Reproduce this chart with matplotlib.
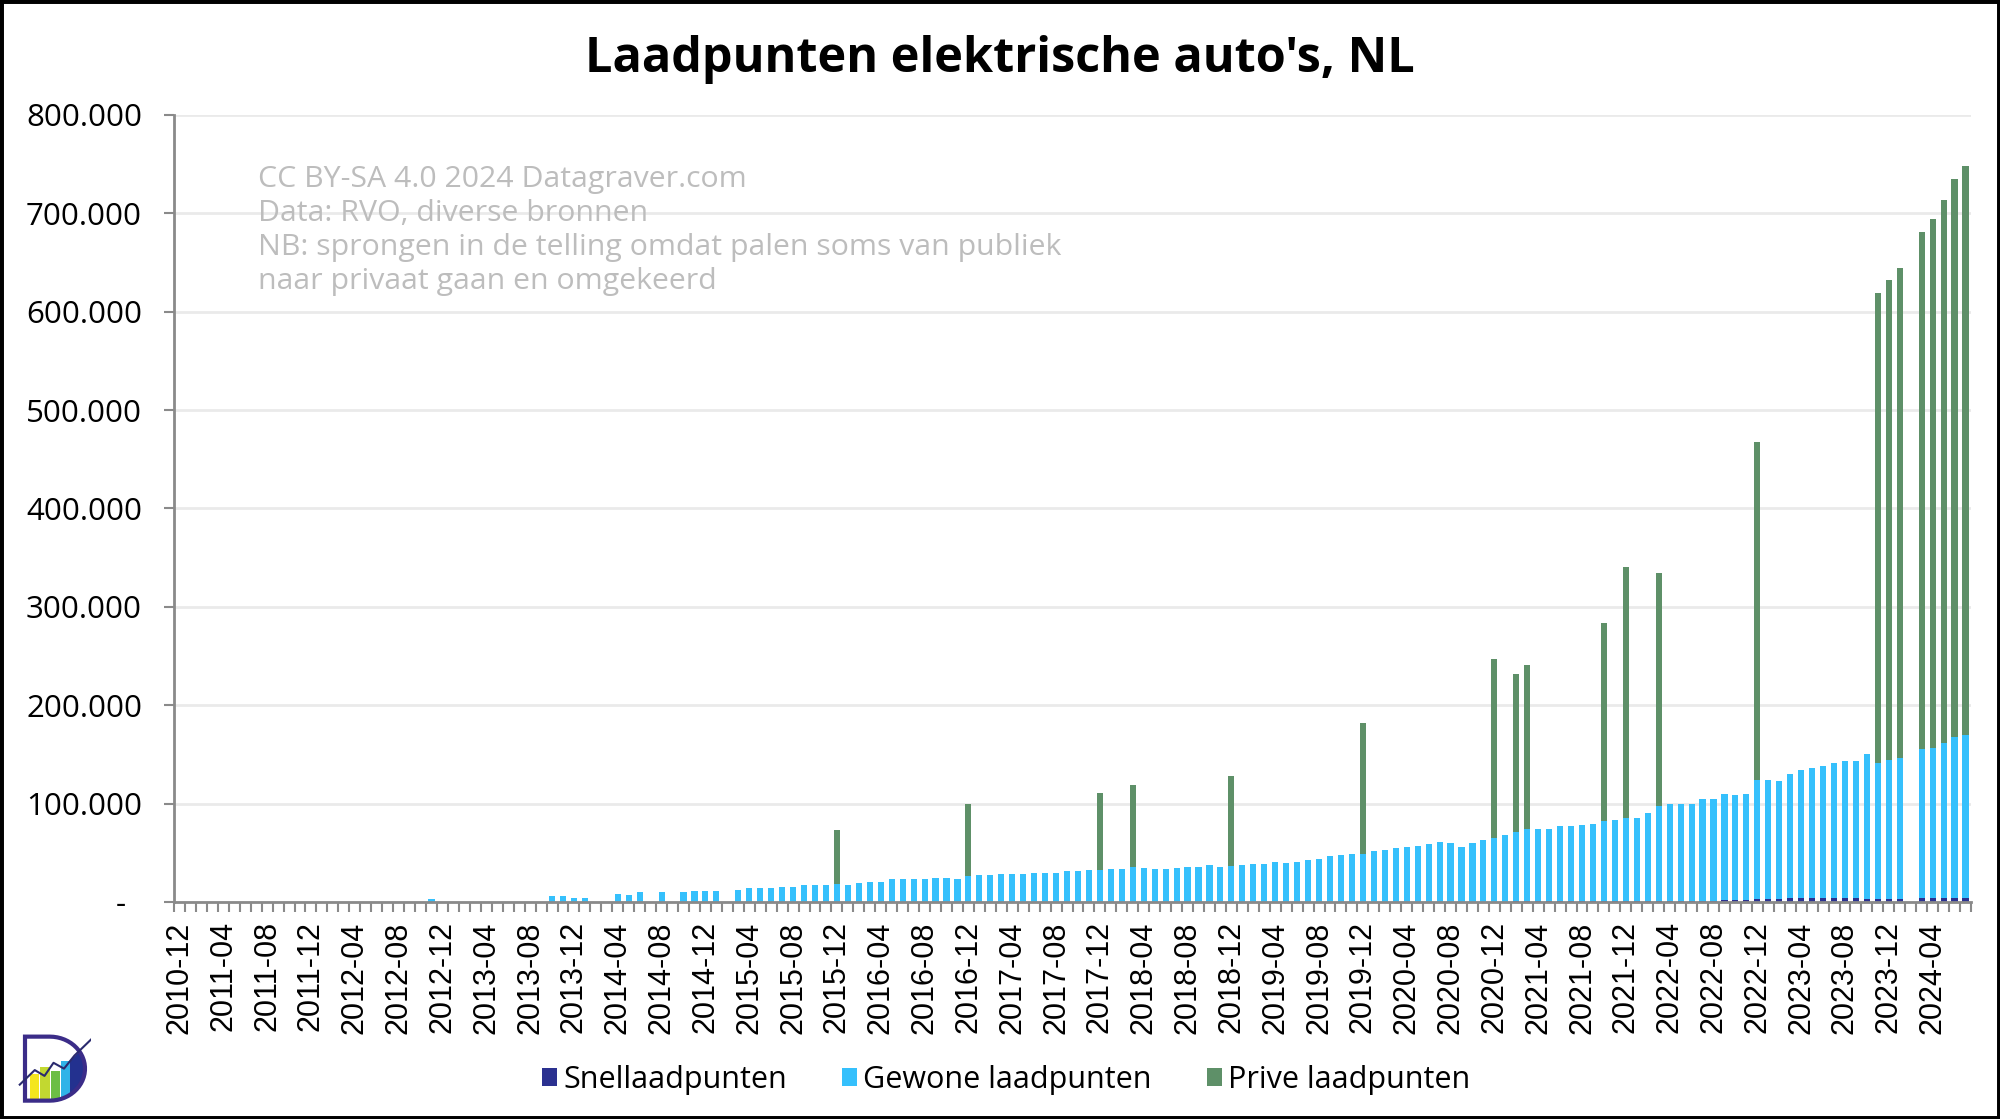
import numpy as np
import pandas as pd
import matplotlib
matplotlib.use("Agg")
import matplotlib.pyplot as plt
from matplotlib.patches import Rectangle, PathPatch, Polygon
from matplotlib.path import Path
from matplotlib.ticker import FixedLocator, FuncFormatter

# ---------------- data (thousands of charging points) ----------------
months = pd.period_range("2010-12", "2024-07", freq="M").strftime("%Y-%m").tolist()

snel_k = (
    [0]
    + [0] * 12            # 2011
    + [0] * 12            # 2012
    + [0] * 12            # 2013
    + [0] * 12            # 2014
    + [0] * 12            # 2015
    + [0] * 12            # 2016
    + [0] * 12            # 2017
    + [0] * 12            # 2018
    + [0] * 12            # 2019
    + [0] * 12            # 2020
    + [0, 0.8, 0.8, 1.0, 1.0, 1.0, 1.0, 1.0, 1.0, 1.0, 1.0, 1.0]      # 2021
    + [1.0, 1.2, 1.2, 1.2, 1.2, 1.2, 1.2, 1.2, 1.5, 1.5, 1.5, 2.8]     # 2022
    + [2.8, 2.8, 3.5, 3.5, 3.5, 3.5, 3.5, 3.5, 3.5, 3.0, 3.0, 3.0]     # 2023
    + [3.0, 0, 3.5, 3.5, 3.5, 3.5, 3.5]                               # 2024
)

gewone_k = (
    [0]
    + [0] * 12                                                         # 2011
    + [0, 0, 0, 0, 0, 0, 0, 0, 0, 0, 3.0, 0]                           # 2012
    + [0, 0, 0, 0, 0, 0, 0, 0, 0, 5.8, 5.8, 4.4]                       # 2013
    + [4.4, 0, 0, 8.5, 7.2, 9.9, 0, 9.9, 0, 9.9, 11.3, 11.3]           # 2014
    + [11.3, 0, 12.6, 14.0, 14.0, 14.0, 15.4, 15.4, 16.7, 16.7, 16.7, 18.0]   # 2015
    + [17.6, 19.0, 20.3, 20.3, 23.0, 23.0, 23.0, 23.0, 24.4, 24.4, 23.0, 26.0]  # 2016
    + [27.0, 27.0, 28.5, 28.5, 28.5, 29.8, 29.8, 29.8, 31.2, 31.2, 32.5, 32.5]  # 2017
    + [33.9, 33.9, 35.6, 34.8, 33.1, 33.1, 34.5, 35.8, 35.8, 37.2, 35.8, 36.5]  # 2018
    + [37.2, 38.6, 38.6, 41.0, 40.0, 41.0, 42.3, 43.7, 46.4, 47.8, 49.1, 49.1]  # 2019
    + [51.9, 53.2, 54.6, 56.0, 57.3, 58.4, 61.1, 59.6, 55.6, 59.8, 62.5, 64.9]  # 2020
    + [67.9, 69.8, 73.5, 73.3, 73.3, 75.7, 75.7, 77.0, 78.4, 80.8, 82.4, 83.8]  # 2021
    + [83.8, 88.7, 95.8, 98.1, 98.1, 98.1, 103.2, 103.2, 108.5, 107.3, 108.7, 120.9]  # 2022
    + [121.6, 120.2, 126.3, 130.1, 133.1, 134.5, 138.2, 139.5, 139.5, 147.8, 138.7, 141.4]  # 2023
    + [142.8, 0, 151.8, 153.1, 158.5, 164.5, 166.0]                    # 2024
)

prive_k = (
    [0]
    + [0] * 12                                                         # 2011
    + [0] * 12                                                         # 2012
    + [0] * 12                                                         # 2013
    + [0] * 12                                                         # 2014
    + [0] * 11 + [55.5]                                                # 2015
    + [0] * 11 + [73.3]                                                # 2016
    + [0] * 11 + [78.5]                                                # 2017
    + [0, 0, 83.7] + [0] * 8 + [91.8]                                  # 2018
    + [0] * 11 + [132.5]                                               # 2019
    + [0] * 11 + [181.9]                                               # 2020
    + [0, 161.3, 166.7, 0, 0, 0, 0, 0, 0, 202.2, 0, 255.2]             # 2021
    + [0, 0, 237.8, 0, 0, 0, 0, 0, 0, 0, 0, 343.9]                     # 2022
    + [0] * 10 + [477.3, 488.0]                                        # 2023
    + [498.9, 0, 526.1, 538.1, 551.3, 567.1, 578.9]                    # 2024
)

series_names = ["Snellaadpunten", "Gewone laadpunten", "Prive laadpunten"]
tick_labels = months[::4]
y_ticks = [0, 100000, 200000, 300000, 400000, 500000, 600000, 700000, 800000]

title = "Laadpunten elektrische auto's, NL"
note = ("CC BY-SA 4.0 2024 Datagraver.com\n"
        "Data: RVO, diverse bronnen\n"
        "NB: sprongen in de telling omdat palen soms van publiek\n"
        "naar privaat gaan en omgekeerd")

# ---------------- styling ----------------
C_SNEL = "#2B3190"
C_GEW = "#35C0FC"
C_PRIV = "#5E9068"
C_AXIS = "#8A8A8A"
C_GRID = "#EAEAEA"

snel = np.array(snel_k) * 1000
gewone = np.array(gewone_k) * 1000
prive = np.array(prive_k) * 1000
x = np.arange(len(months))

fig = plt.figure(figsize=(20, 11.19), dpi=100)
ax = fig.add_axes([0.087, 0.194, 0.8985, 0.7033])

bw = 0.56
b1 = ax.bar(x, snel, width=bw, color=C_SNEL, label=series_names[0], zorder=2)
b2 = ax.bar(x, gewone, width=bw, bottom=snel, color=C_GEW, label=series_names[1], zorder=2)
b3 = ax.bar(x, prive, width=bw, bottom=snel + gewone, color=C_PRIV, label=series_names[2], zorder=2)

ax.set_xlim(-0.5, len(months) - 0.5)
ax.set_ylim(0, 800000)

ax.set_yticks(y_ticks)
ax.yaxis.set_major_formatter(FuncFormatter(
    lambda v, p: "-  " if v == 0 else f"{v:,.0f}".replace(",", ".")))
ax.yaxis.grid(True, color=C_GRID, lw=2, zorder=0)
ax.set_axisbelow(True)

for s in ["top", "right"]:
    ax.spines[s].set_visible(False)
for s in ["left", "bottom"]:
    ax.spines[s].set_color(C_AXIS)
    ax.spines[s].set_linewidth(2)

ax.tick_params(axis="y", which="major", length=7, width=1.5, color=C_AXIS,
               pad=16, labelsize=22.5, labelcolor="black")
for lab in ax.get_yticklabels():
    lab.set_fontfamily("Open Sans")

ax.xaxis.set_major_locator(FixedLocator(x[::4]))
ax.set_xticklabels(tick_labels, rotation=90, fontfamily="Liberation Sans", fontsize=22)
ax.xaxis.set_minor_locator(FixedLocator(np.arange(-0.5, len(months), 1.0)))
ax.tick_params(axis="x", which="major", length=0, pad=14)
ax.tick_params(axis="x", which="minor", length=7, width=1.5, color=C_AXIS)

# title and note
fig.text(0.5, 1 - 59 / 1119, title, ha="center", va="center", fontsize=35,
         fontweight="bold", fontfamily="Open Sans")
fig.text(258 / 2000, 1 - 165 / 1119, note, ha="left", va="top", fontsize=21.8,
         color="#BDBDBD", fontfamily="Open Sans", linespacing=1.22)

# legend
leg = fig.legend(handles=[b1, b2, b3], labels=series_names, loc="center",
                 bbox_to_anchor=(0.503, 1 - 1080 / 1119), ncol=3, frameon=False,
                 handlelength=0.5, handleheight=0.5, handletextpad=0.2,
                 columnspacing=1.8, prop={"family": "Open Sans", "size": 22})

# logo (simplified)
lax = fig.add_axes([0.008, 1 - 1105 / 1119, 0.0375, 0.065])
lax.set_xlim(0, 1)
lax.set_ylim(0, 1)
lax.axis("off")
verts = [(0.12, 0.06), (0.12, 0.94), (0.45, 0.94)]
th = np.linspace(np.pi / 2, -np.pi / 2, 30)
verts += [(0.45 + 0.47 * np.cos(t), 0.5 + 0.44 * np.sin(t)) for t in th]
verts += [(0.12, 0.06)]
dpath = Path(verts, closed=True)
inner = PathPatch(dpath, facecolor="white", edgecolor="none")
lax.add_patch(inner)
bar_cols = ["#F4E61E", "#C2D830", "#6CBE45", "#2FB3E8", "#23318F"]
tops = [0.42, 0.52, 0.47, 0.60, 0.56]
for k, (c, tp) in enumerate(zip(bar_cols, tops)):
    r = Rectangle((0.18 + k * 0.14, 0.06), 0.13, tp - 0.06, facecolor=c, edgecolor="none")
    r.set_clip_path(inner)
    lax.add_patch(r)
dark = Polygon([(0.72, 0.6), (1.0, 0.9), (1.0, 0.0), (0.72, 0.0)], closed=True,
               facecolor="#23318F", edgecolor="none")
dark.set_clip_path(inner)
lax.add_patch(dark)
lax.plot([0.05, 0.25, 0.38, 0.5, 0.64, 0.78, 1.0],
         [0.28, 0.48, 0.40, 0.58, 0.50, 0.68, 0.90], color="#2A2A6E", lw=1.5)
lax.add_patch(PathPatch(dpath, facecolor="none", edgecolor="#3B2C88", lw=3))

# border
fig.add_artist(Rectangle((0, 0), 1, 1, transform=fig.transFigure, fill=False,
                         edgecolor="black", lw=5))

fig.savefig("out.png", dpi=100, facecolor="white")
